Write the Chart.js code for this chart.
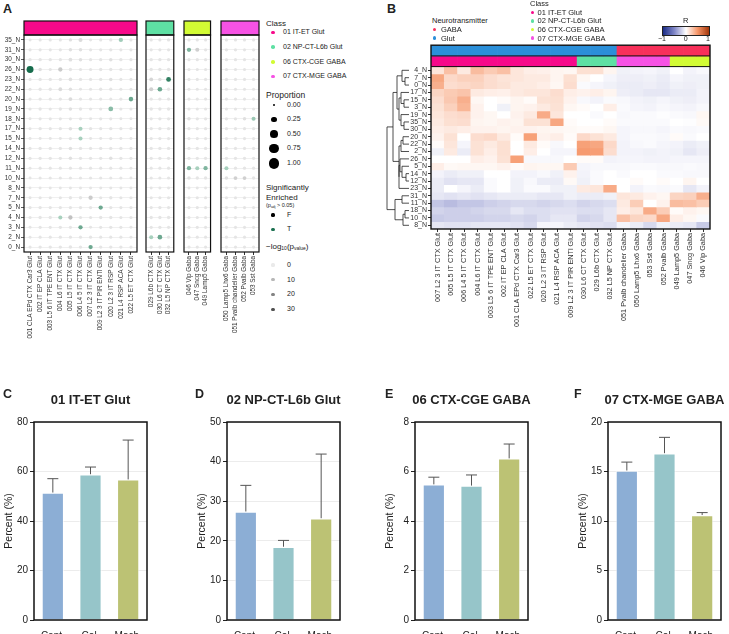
<!DOCTYPE html>
<html lang="en">
<head>
<meta charset="UTF-8">
<meta name="viewport" content="width=device-width, initial-scale=1.0">
<title>Cluster enrichment by neuron class</title>
<script src="https://cdn.jsdelivr.net/npm/chart.js"></script>
<style>
  html, body { margin: 0; padding: 0; background: #fff; }
  body { position: relative; width: 729px; height: 634px; overflow: hidden;
         font-family: Arial, "Liberation Sans", Helvetica, sans-serif; color: #222; }
  canvas { position: absolute; }
  .txt { position: absolute; white-space: nowrap; line-height: 1.2; }
  .dot { position: absolute; border-radius: 50%; }
  sub { font-size: 0.62em; vertical-align: -0.2em; line-height: 0; }
</style>
</head>
<body>
<canvas id="a1" width="141" height="360" style="left:0;top:18px"></canvas>
<canvas id="a2" width="36" height="360" style="left:142px;top:18px"></canvas>
<canvas id="a3" width="35" height="360" style="left:180px;top:18px"></canvas>
<canvas id="a4" width="46" height="360" style="left:217px;top:18px"></canvas>
<canvas id="heat" width="354" height="300" style="left:375px;top:40px"></canvas>
<canvas id="barC" width="150" height="249" style="left:0;top:385px"></canvas>
<canvas id="barD" width="150" height="249" style="left:193px;top:385px"></canvas>
<canvas id="barE" width="150" height="249" style="left:381px;top:385px"></canvas>
<canvas id="barF" width="150" height="249" style="left:574px;top:385px"></canvas>

<script>
// ---- panel A: enrichment dot plot ----
const rowsA = ['35_N','31_N','30_N','26_N','23_N','22_N','20_N','19_N','18_N','17_N','15_N',
               '14_N','12_N','11_N','10_N','8_N','7_N','5_N','4_N','3_N','2_N','0_N'];
const colsA1 = ['001 CLA EPd CTX Car3 Glut','002 IT EP CLA Glut','003 L5 6 IT TPE ENT Glut','004 L6 IT CTX Glut',
                '005 L5 IT CTX Glut','006 L4 5 IT CTX Glut','007 L2 3 IT CTX Glut','009 L2 3 IT PIR ENTl Glut',
                '020 L2 3 IT RSP Glut','021 L4 RSP ACA Glut','022 L5 ET CTX Glut'];
const colsA2 = ['029 L6b CTX Glut','030 L6 CT CTX Glut','032 L5 NP CTX Glut'];
const colsA3 = ['046 Vip Gaba','047 Sncg Gaba','049 Lamp5 Gaba'];
const colsA4 = ['050 Lamp5 Lhx6 Gaba','051 Pvalb chandelier Gaba','052 Pvalb Gaba','053 Sst Gaba'];

// proportion (%) per row, columns in order colsA1..colsA4
const propA = [
  [3,4,4,4,5,10,3,4,5,12,4,  4,4,5,   4,4,4,    4,4,4,4],
  [4,4,4,5,6,6,4,4,5,4,4,    4,4,4,   12,10,5,  5,5,4,5],
  [5,5,5,5,8,6,4,5,6,5,4,    5,5,5,   4,4,4,    4,4,4,4],
  [40,6,4,12,5,4,4,5,5,4,4,  5,5,5,   4,4,4,    4,4,4,4],
  [4,5,5,5,7,5,4,5,6,4,4,    8,6,16,  4,4,4,    4,4,4,4],
  [4,5,5,8,6,3,4,5,5,4,4,    10,15,5, 4,4,4,    4,4,4,4],
  [4,5,4,5,8,5,4,4,4,5,14,   5,5,5,   4,4,4,    4,4,4,4],
  [4,5,4,5,6,5,4,4,16,4,4,   5,5,5,   4,4,4,    4,4,4,4],
  [3,4,4,4,4,4,3,4,4,3,3,    4,5,5,   6,5,5,    5,5,6,10],
  [3,5,4,5,7,10,5,4,5,4,4,   4,5,4,   4,4,4,    4,4,4,4],
  [3,3,3,3,4,10,3,3,4,3,3,   4,4,4,   4,4,4,    4,4,4,4],
  [4,5,5,5,6,5,4,5,5,5,4,    5,5,5,   5,5,5,    4,4,4,4],
  [4,5,5,5,6,5,5,5,6,5,4,    5,5,5,   5,5,5,    5,5,5,5],
  [3,4,4,4,4,4,4,4,4,4,3,    4,4,4,   12,10,12, 10,5,5,5],
  [3,4,4,4,4,4,4,4,4,4,3,    4,4,4,   6,5,5,    6,8,8,5],
  [2,3,3,3,3,3,3,3,3,3,3,    3,3,3,   3,3,3,    3,3,3,3],
  [3,4,4,4,5,5,12,4,5,4,4,   4,4,4,   4,4,4,    4,4,4,4],
  [4,5,4,5,5,5,5,12,5,4,4,   4,5,4,   4,4,4,    4,4,4,4],
  [4,5,5,10,12,4,4,5,5,4,4,  5,5,5,   4,4,4,    4,4,4,4],
  [3,4,4,5,4,12,3,4,5,4,3,   4,5,4,   4,4,4,    4,4,4,4],
  [3,4,4,5,4,4,4,4,4,4,3,    10,15,4, 4,4,4,    4,4,4,4],
  [4,5,5,5,6,5,12,5,5,5,4,   4,4,4,   4,4,4,    4,4,4,4]
];
// -log10(p value), same layout
const logpA = [
  [1,1,1,1,2,3,1,1,1,6,1,   1,1,1,   1,1,1,   1,1,1,1],
  [1,1,1,1,2,2,1,1,1,1,1,   1,1,1,   12,5,1,  1,1,1,1],
  [1,1,1,1,2,2,1,1,2,1,1,   1,1,1,   1,1,1,   1,1,1,1],
  [30,2,1,6,1,1,1,1,1,1,1,  1,1,1,   1,1,1,   1,1,1,1],
  [1,1,1,1,2,1,1,1,2,1,1,   4,2,25,  1,1,1,   1,1,1,1],
  [1,1,1,3,2,1,1,1,1,1,1,   5,15,1,  1,1,1,   1,1,1,1],
  [1,1,1,1,3,1,1,1,1,1,15,  1,1,1,   1,1,1,   1,1,1,1],
  [1,1,1,1,2,1,1,1,10,1,1,  1,1,1,   1,1,1,   1,1,1,1],
  [1,1,1,1,1,1,1,1,1,1,1,   1,1,1,   2,1,1,   1,1,2,7],
  [1,1,1,1,2,5,1,1,1,1,1,   1,1,1,   1,1,1,   1,1,1,1],
  [1,1,1,1,1,5,1,1,1,1,1,   1,1,1,   1,1,1,   1,1,1,1],
  [1,1,1,1,2,1,1,1,1,1,1,   1,1,1,   1,1,1,   1,1,1,1],
  [1,1,1,1,2,1,1,1,2,1,1,   1,1,1,   1,1,1,   1,1,1,1],
  [1,1,1,1,1,1,1,1,1,1,1,   1,1,1,   12,5,12, 5,1,1,1],
  [1,1,1,1,1,1,1,1,1,1,1,   1,1,1,   2,1,1,   2,5,5,1],
  [1,1,1,1,1,1,1,1,1,1,1,   1,1,1,   1,1,1,   1,1,1,1],
  [1,1,1,1,1,1,6,1,1,1,1,   1,1,1,   1,1,1,   1,1,1,1],
  [1,1,1,1,1,1,1,15,1,1,1,  1,1,1,   1,1,1,   1,1,1,1],
  [1,1,1,5,8,1,1,1,1,1,1,   1,1,1,   1,1,1,   1,1,1,1],
  [1,1,1,1,1,15,1,1,1,1,1,  1,1,1,   1,1,1,   1,1,1,1],
  [1,1,1,1,1,1,1,1,1,1,1,   5,15,1,  1,1,1,   1,1,1,1],
  [1,1,1,1,1,1,15,1,1,1,1,  1,1,1,   1,1,1,   1,1,1,1]
];
// significantly enriched cells [cluster, cell type]
const sigA = [
  ['35_N','021 L4 RSP ACA Glut'], ['26_N','001 CLA EPd CTX Car3 Glut'], ['20_N','022 L5 ET CTX Glut'],
  ['19_N','020 L2 3 IT RSP Glut'], ['17_N','006 L4 5 IT CTX Glut'], ['15_N','006 L4 5 IT CTX Glut'],
  ['5_N','009 L2 3 IT PIR ENTl Glut'], ['4_N','004 L6 IT CTX Glut'], ['3_N','006 L4 5 IT CTX Glut'],
  ['0_N','007 L2 3 IT CTX Glut'], ['23_N','032 L5 NP CTX Glut'], ['22_N','030 L6 CT CTX Glut'],
  ['2_N','029 L6b CTX Glut'], ['2_N','030 L6 CT CTX Glut'], ['31_N','046 Vip Gaba'],
  ['11_N','046 Vip Gaba'], ['11_N','047 Sncg Gaba'], ['11_N','049 Lamp5 Gaba'],
  ['11_N','050 Lamp5 Lhx6 Gaba'], ['18_N','053 Sst Gaba']
];
const classNames = ['01 IT-ET Glut','02 NP-CT-L6b Glut','06 CTX-CGE GABA','07 CTX-MGE GABA'];
const classColors = ['#f7098a','#5ee0a3','#d2fb34','#f652e4'];

// ---- panel B: correlation heatmap ----
const rowsB = ['4_N','7_N','0_N','17_N','15_N','3_N','19_N','35_N','30_N','20_N','22_N',
               '2_N','26_N','5_N','14_N','12_N','23_N','31_N','11_N','18_N','10_N','8_N'];
const colsB = ['007 L2 3 IT CTX Glut','005 L5 IT CTX Glut','006 L4 5 IT CTX Glut','004 L6 IT CTX Glut',
               '003 L5 6 IT TPE ENT Glut','002 IT EP CLA Glut','001 CLA EPd CTX Car3 Glut','022 L5 ET CTX Glut',
               '020 L2 3 IT RSP Glut','021 L4 RSP ACA Glut','009 L2 3 IT PIR ENTl Glut','030 L6 CT CTX Glut',
               '029 L6b CTX Glut','032 L5 NP CTX Glut','051 Pvalb chandelier Gaba','050 Lamp5 Lhx6 Gaba',
               '053 Sst Gaba','052 Pvalb Gaba','049 Lamp5 Gaba','047 Sncg Gaba','046 Vip Gaba'];
const ntB = ['Glut','Glut','Glut','Glut','Glut','Glut','Glut','Glut','Glut','Glut','Glut','Glut','Glut','Glut',
             'GABA','GABA','GABA','GABA','GABA','GABA','GABA'];
const classB = [0,0,0,0,0,0,0,0,0,0,0, 1,1,1, 3,3,3,3, 2,2,2];
const ntColors = { GABA: '#f8305a', Glut: '#2b8fd9' };
const corrB = [
  [0.12,0.30,0.10,0.32,0.25,0.30,0.12,0.08,0.07,0.05,0.04,0.15,0.15,0.05,-0.06,-0.05,-0.04,-0.06,0.00,-0.05,-0.03],
  [0.42,0.18,0.22,0.22,0.16,0.13,0.12,0.10,0.10,0.05,0.15,0.04,0.00,-0.04,-0.07,-0.07,-0.06,-0.08,-0.04,-0.06,-0.06],
  [0.38,0.16,0.18,0.20,0.16,0.14,0.10,0.10,0.08,0.04,0.16,-0.02,-0.04,-0.06,-0.08,-0.08,-0.07,-0.09,-0.06,-0.07,-0.06],
  [0.20,0.25,0.28,0.10,0.08,0.07,0.10,0.12,0.12,0.16,0.08,0.06,0.08,0.05,-0.07,-0.08,-0.10,-0.10,-0.08,-0.08,-0.05],
  [0.16,0.26,0.38,0.04,0.00,0.02,0.05,0.02,0.14,0.15,0.06,-0.03,-0.05,-0.02,-0.03,-0.05,-0.06,-0.04,-0.06,-0.07,-0.05],
  [0.14,0.22,0.35,0.06,0.00,-0.06,0.05,0.06,0.10,0.14,0.04,0.02,0.00,0.08,-0.02,-0.04,-0.05,-0.03,-0.04,-0.05,-0.03],
  [0.12,0.16,0.18,0.06,0.04,0.00,0.06,0.10,0.40,0.12,0.00,0.00,-0.02,0.00,-0.03,-0.02,-0.02,-0.01,-0.02,-0.03,0.04],
  [0.10,0.15,0.16,0.05,0.04,0.06,0.05,0.14,0.14,0.42,0.02,0.00,0.00,0.02,-0.02,-0.02,-0.02,-0.02,0.00,-0.01,0.03],
  [0.08,0.10,0.08,0.06,0.06,0.05,0.06,0.06,0.05,0.04,0.03,0.02,0.02,0.04,-0.04,-0.03,-0.03,-0.04,-0.02,-0.03,-0.02],
  [0.06,0.14,0.00,0.16,0.18,0.10,0.02,0.45,0.06,0.08,0.02,0.18,0.14,0.10,-0.04,-0.02,-0.02,-0.03,0.02,-0.02,0.00],
  [0.02,0.12,-0.04,0.14,0.10,0.15,0.00,0.10,0.02,-0.03,0.00,0.45,0.42,0.18,-0.05,-0.03,-0.02,-0.04,-0.05,-0.08,-0.06],
  [-0.06,0.10,-0.08,0.14,0.08,0.15,0.00,0.08,0.00,-0.04,-0.04,0.48,0.46,0.16,-0.05,-0.05,-0.06,-0.05,-0.06,-0.10,-0.07],
  [0.00,0.00,0.00,0.08,0.06,0.14,0.45,-0.03,-0.03,-0.03,0.00,0.02,0.02,-0.05,-0.04,-0.04,-0.05,-0.05,-0.04,-0.04,-0.04],
  [0.08,0.03,0.04,0.04,0.04,0.06,0.02,0.05,0.04,0.04,0.25,-0.04,-0.03,-0.03,-0.03,-0.02,-0.02,-0.03,-0.03,-0.02,-0.03],
  [-0.05,-0.08,-0.06,-0.06,0.00,0.00,-0.05,-0.05,-0.03,-0.06,0.06,-0.05,-0.02,0.00,-0.02,0.00,0.00,-0.02,-0.02,-0.03,-0.03],
  [-0.08,-0.12,-0.10,-0.10,-0.02,0.00,-0.06,-0.03,-0.08,-0.08,0.03,-0.06,-0.02,0.00,0.00,0.02,0.00,0.02,0.00,0.05,0.00],
  [-0.08,0.00,-0.04,-0.08,-0.02,0.00,-0.06,-0.02,-0.02,-0.06,-0.06,0.10,0.12,0.40,0.00,-0.05,-0.02,-0.03,-0.02,-0.10,-0.05],
  [-0.10,-0.12,-0.10,-0.12,-0.10,-0.08,-0.08,-0.08,-0.10,-0.10,-0.06,-0.08,-0.08,-0.06,0.12,0.10,0.06,0.04,0.20,0.22,0.38],
  [-0.24,-0.28,-0.24,-0.24,-0.20,-0.18,-0.16,-0.16,-0.18,-0.16,-0.14,-0.18,-0.16,-0.14,0.10,0.24,0.00,0.06,0.32,0.30,0.24],
  [-0.18,-0.20,-0.20,-0.18,-0.16,-0.16,-0.10,-0.14,-0.14,-0.12,-0.12,-0.14,-0.14,-0.10,0.08,0.12,0.40,0.24,0.02,0.06,0.04],
  [-0.22,-0.20,-0.20,-0.20,-0.18,-0.18,-0.16,-0.18,-0.14,-0.10,-0.10,-0.18,-0.16,-0.10,0.30,0.20,0.18,0.42,0.08,0.04,-0.02],
  [-0.10,-0.12,-0.12,-0.10,-0.10,-0.10,-0.12,-0.16,-0.04,-0.04,-0.08,-0.10,-0.12,-0.14,-0.04,-0.08,-0.16,-0.06,-0.08,-0.10,-0.22]
];
// row clustering: [left, right, height]; ids >= 22 are earlier merges
const dendroB = [
  [1,2,4], [0,22,7], [4,5,5], [3,24,8], [7,8,5], [6,26,8], [25,27,10], [23,28,12],
  [9,10,6], [30,11,8], [14,15,3], [13,32,7], [12,33,9], [34,16,10], [31,35,10],
  [29,36,16], [17,18,7], [19,20,4], [39,21,6], [38,40,14], [37,41,22]
];

// ---- panels C-F: class proportions ----
const barGroups = ['Cent.','Col.','Mach.'];
const barColors = ['#8caed5','#96c5c9','#bcc274'];
const itEtMean = [51.5, 58.9, 56.8], itEtUpper = [57.1, 61.8, 72.7];
const npCtMean = [27.4, 18.5, 25.7], npCtUpper = [34.0, 20.1, 41.9];
const cgeMean  = [5.48, 5.43, 6.53], cgeUpper  = [5.77, 5.86, 7.11];
const mgeMean  = [15.1, 16.85, 10.6], mgeUpper = [15.95, 18.45, 10.85];

Chart.defaults.font.family = 'Arial, "Liberation Sans", Helvetica, sans-serif';
Chart.defaults.color = '#222';
Chart.defaults.animation = false;
Chart.defaults.events = [];
Chart.defaults.responsive = false;
Chart.defaults.maintainAspectRatio = false;
Chart.defaults.plugins.legend.display = false;
Chart.defaults.plugins.tooltip.enabled = false;

const dotRadius = p => Math.sqrt(1.44 + 26.6 * p / 100);
const mix = (c0, c1, t) => 'rgb(' + c0.map((c, k) => Math.round(c + (c1[k] - c) * t)).join(',') + ')';
const grayShade = lp => mix([234,234,234], [80,80,80], Math.min(lp / 30, 1));
const greenShade = lp => mix([196,228,212], [22,108,76], Math.min(lp / 30, 1));
const rStops = [[-1,[26,44,135]], [-0.5,[130,136,200]], [0,[255,255,255]], [0.5,[246,150,105]], [1,[165,55,10]]];
function rColor(r) {
  for (let i = 0; i < rStops.length - 1; i++) {
    const [a, ca] = rStops[i], [b, cb] = rStops[i + 1];
    if (r <= b) return mix(ca, cb, (r - a) / (b - a));
  }
  return mix(rStops[4][1], rStops[4][1], 0);
}

// header box + frame for each dot plot block
const headerFrame = color => ({
  id: 'headerFrame',
  afterDraw(chart) {
    const { ctx, chartArea: a } = chart;
    ctx.save();
    ctx.fillStyle = color;
    ctx.fillRect(a.left, a.top - 14, a.right - a.left, 14);
    ctx.strokeStyle = '#111';
    ctx.lineWidth = 1.2;
    ctx.strokeRect(a.left, a.top - 14, a.right - a.left, 14);
    ctx.strokeRect(a.left, a.top, a.right - a.left, a.bottom - a.top);
    ctx.restore();
  }
});

const blocksA = [
  { id: 'a1', cols: colsA1, start: 0, cls: 0, showY: true },
  { id: 'a2', cols: colsA2, start: 11, cls: 1 },
  { id: 'a3', cols: colsA3, start: 14, cls: 2 },
  { id: 'a4', cols: colsA4, start: 17, cls: 3 }
];
blocksA.forEach(g => {
  const pts = [], colors = [];
  rowsA.forEach((row, ri) => g.cols.forEach((col, ci) => {
    const k = g.start + ci;
    const sig = sigA.some(s => s[0] === row && s[1] === col);
    pts.push({ x: ci, y: rowsA.length - 1 - ri, r: dotRadius(propA[ri][k]) });
    colors.push(sig ? greenShade(logpA[ri][k]) : grayShade(logpA[ri][k]));
  }));
  new Chart(document.getElementById(g.id), {
    type: 'bubble',
    data: { datasets: [{ data: pts, backgroundColor: colors, borderWidth: 0 }] },
    options: {
      layout: { padding: { top: 17, left: g.showY ? 0 : 1, right: 2, bottom: 0 } },
      scales: {
        x: {
          type: 'linear', min: -0.6, max: g.cols.length - 0.4,
          afterBuildTicks: s => { s.ticks = g.cols.map((c, i) => ({ value: i })); },
          afterFit: s => { s.height = 126; },
          ticks: { autoSkip: false, minRotation: 90, maxRotation: 90, font: { size: 6.4 }, color: '#333',
                   padding: 1, callback: v => g.cols[v] },
          grid: { drawOnChartArea: false, tickLength: 3, tickColor: '#333' },
          border: { display: false }
        },
        y: {
          type: 'linear', min: -0.5, max: rowsA.length - 0.5,
          afterBuildTicks: s => { s.ticks = rowsA.map((r, i) => ({ value: i })); },
          afterFit: s => { s.width = g.showY ? 24 : 0; },
          ticks: { display: !!g.showY, autoSkip: false, font: { size: 6.4 }, color: '#333', padding: 1,
                   callback: v => rowsA[rowsA.length - 1 - v] },
          grid: { color: '#ececec', lineWidth: 0.8, drawTicks: !!g.showY, tickLength: 3, tickColor: '#333' },
          border: { display: false }
        }
      }
    },
    plugins: [headerFrame(classColors[g.cls])]
  });
});

// heatmap with annotation bars and row dendrogram
const annoH = 1.45;
const heatFrame = {
  id: 'heatFrame',
  afterDraw(chart) {
    const { ctx, chartArea: a, scales: { y } } = chart;
    ctx.save();
    ctx.strokeStyle = '#111';
    ctx.lineWidth = 1;
    [annoH, 2 * annoH].forEach(v => {
      const py = y.getPixelForValue(v);
      ctx.beginPath(); ctx.moveTo(a.left, py); ctx.lineTo(a.right, py); ctx.stroke();
    });
    ctx.lineWidth = 1.4;
    ctx.strokeRect(a.left, a.top, a.right - a.left, a.bottom - a.top);
    const leafX = a.left - 22;
    const nodes = rowsB.map((r, i) => ({ x: leafX, y: y.getPixelForValue(2 * annoH + i + 0.5) }));
    ctx.lineWidth = 0.8;
    ctx.strokeStyle = '#222';
    dendroB.forEach(([p, q, h]) => {
      const A = nodes[p], B = nodes[q], x = leafX - h;
      ctx.beginPath();
      ctx.moveTo(A.x, A.y); ctx.lineTo(x, A.y); ctx.lineTo(x, B.y); ctx.lineTo(B.x, B.y);
      ctx.stroke();
      nodes.push({ x, y: (A.y + B.y) / 2 });
    });
    ctx.restore();
  }
};
const cellSet = { barPercentage: 1, categoryPercentage: 1, borderWidth: 0 };
new Chart(document.getElementById('heat'), {
  type: 'bar',
  data: {
    labels: colsB,
    datasets: [
      { ...cellSet, data: colsB.map(() => annoH), backgroundColor: ntB.map(n => ntColors[n]) },
      { ...cellSet, data: colsB.map(() => annoH), backgroundColor: classB.map(c => classColors[c]) },
      ...rowsB.map((row, i) => ({ ...cellSet, label: row, data: colsB.map(() => 1), backgroundColor: corrB[i].map(rColor) }))
    ]
  },
  options: {
    layout: { padding: { top: 4, left: 10, right: 19, bottom: 0 } },
    scales: {
      x: {
        stacked: true,
        afterFit: s => { s.height = 111; },
        ticks: { autoSkip: false, minRotation: 90, maxRotation: 90, font: { size: 7.3 }, color: '#333', padding: 1 },
        grid: { drawOnChartArea: false, offset: false, tickLength: 3, tickColor: '#333' },
        border: { display: false }
      },
      y: {
        stacked: true, reverse: true, min: 0, max: 2 * annoH + rowsB.length,
        afterBuildTicks: s => { s.ticks = rowsB.map((r, i) => ({ value: 2 * annoH + i + 0.5 })); },
        afterFit: s => { s.width = 46; },
        ticks: { autoSkip: false, font: { size: 7 }, color: '#333', padding: 1,
                 callback: v => rowsB[Math.round(v - 2 * annoH - 0.5)] },
        grid: { drawOnChartArea: false, tickLength: 3, tickColor: '#333' },
        border: { display: false }
      }
    }
  },
  plugins: [heatFrame]
});

// bar panels with upper error bars
const errorBars = upper => ({
  id: 'errorBars',
  afterDatasetsDraw(chart) {
    const { ctx, scales: { y } } = chart;
    ctx.save();
    ctx.strokeStyle = '#555';
    ctx.lineWidth = 1;
    chart.getDatasetMeta(0).data.forEach((bar, i) => {
      const yt = y.getPixelForValue(upper[i]);
      ctx.beginPath();
      ctx.moveTo(bar.x, bar.y); ctx.lineTo(bar.x, yt);
      ctx.moveTo(bar.x - 5.5, yt); ctx.lineTo(bar.x + 5.5, yt);
      ctx.stroke();
    });
    ctx.restore();
  }
});
const boxFrame = {
  id: 'boxFrame',
  afterDraw(chart) {
    const { ctx, chartArea: a } = chart;
    ctx.save();
    ctx.strokeStyle = '#111';
    ctx.lineWidth = 1.5;
    ctx.strokeRect(a.left, a.top, a.right - a.left, a.bottom - a.top);
    ctx.restore();
  }
};
function barPanel(id, mean, upper, max, step) {
  new Chart(document.getElementById(id), {
    type: 'bar',
    data: {
      labels: barGroups,
      datasets: [{ data: mean, backgroundColor: barColors, borderColor: 'rgba(255,255,255,0.6)',
                   borderWidth: 1.2, barPercentage: 0.6, categoryPercentage: 1 }]
    },
    options: {
      layout: { padding: { top: 37, left: 0, right: 3, bottom: 0 } },
      scales: {
        x: {
          afterFit: s => { s.height = 14; },
          ticks: { font: { size: 10 }, color: '#222', padding: 2 },
          grid: { display: false },
          border: { display: false }
        },
        y: {
          min: 0, max: max,
          afterFit: s => { s.width = 34; },
          ticks: { stepSize: step, font: { size: 10 }, color: '#222', padding: 2 },
          grid: { color: '#ececec', tickColor: '#222', tickLength: 4 },
          border: { display: false },
          title: { display: true, text: 'Percent (%)', font: { size: 10.5 }, color: '#222', padding: { top: 3, bottom: 0 } }
        }
      }
    },
    plugins: [errorBars(upper), boxFrame]
  });
}
barPanel('barC', itEtMean, itEtUpper, 80, 20);
barPanel('barD', npCtMean, npCtUpper, 50, 10);
barPanel('barE', cgeMean, cgeUpper, 8, 2);
barPanel('barF', mgeMean, mgeUpper, 20, 5);

// ---- text, letters and legends ----
function label(html, x, y, size, opts = {}) {
  const d = document.createElement('div');
  d.className = 'txt';
  d.innerHTML = html;
  d.style.fontSize = size + 'px';
  d.style.left = x + 'px';
  d.style.top = (y - size * 0.6) + 'px';
  if (opts.bold) d.style.fontWeight = 'bold';
  if (opts.center) d.style.transform = 'translateX(-50%)';
  document.body.appendChild(d);
}
function dot(x, y, r, color) {
  const d = document.createElement('div');
  d.className = 'dot';
  d.style.left = (x - r) + 'px';
  d.style.top = (y - r) + 'px';
  d.style.width = d.style.height = (2 * r) + 'px';
  d.style.background = color;
  document.body.appendChild(d);
}

label('A', 3, 9, 12.5, { bold: true });
label('B', 387, 9, 12.5, { bold: true });
label('C', 3, 394, 12.5, { bold: true });
label('D', 195, 394, 12.5, { bold: true });
label('E', 385, 394, 12.5, { bold: true });
label('F', 574, 394, 12.5, { bold: true });

label('01 IT-ET Glut', 90.5, 400, 13, { bold: true, center: true });
label('02 NP-CT-L6b Glut', 283.5, 400, 13, { bold: true, center: true });
label('06 CTX-CGE GABA', 471.5, 400, 13, { bold: true, center: true });
label('07 CTX-MGE GABA', 664.5, 400, 13, { bold: true, center: true });

// panel A legend
label('Class', 266, 24, 8);
classNames.forEach((c, i) => {
  const y = 32.5 + i * 14.7;
  dot(273, y, 1.8, classColors[i]);
  label(c, 283, y, 7);
});
label('Proportion', 266, 95, 8.5);
['0.00','0.25','0.50','0.75','1.00'].forEach((t, i) => {
  const y = 104.7 + i * 14.65;
  dot(274, y, dotRadius(parseFloat(t) * 100), '#000');
  label(t, 287, y, 7);
});
label('Significantly', 266, 188, 8);
label('Enriched', 266, 197.5, 8);
label('(p<sub>adj</sub> &gt; 0.05)', 266, 205, 5.5);
dot(273, 215, 1.6, '#000');
label('F', 287, 215, 7);
dot(273, 229.5, 1.6, '#1b7050');
label('T', 287, 229.5, 7);
label('&minus;log<sub>10</sub>(p<sub>value</sub>)', 266, 247, 8);
[0, 10, 20, 30].forEach((v, i) => {
  const y = 265 + i * 14.7;
  dot(273, y, 1.6, grayShade(v));
  label(String(v), 287, y, 7);
});

// panel B legend
label('Neurotransmitter', 432, 20.8, 7.5);
['GABA','Glut'].forEach((n, i) => {
  const y = 29.3 + i * 8.7;
  dot(434.5, y, 1.8, ntColors[n]);
  label(n, 441, y, 7.5);
});
label('Class', 530, 3.8, 7.5);
classNames.forEach((c, i) => {
  const y = 12.3 + i * 8.6;
  dot(532.5, y, 1.8, classColors[i]);
  label(c, 537.5, y, 7.5);
});
label('R', 685.7, 20, 7.5, { center: true });
const bar = document.createElement('div');
bar.style.cssText = 'position:absolute;left:662px;top:25.7px;width:46px;height:8px;border:1px solid #222;' +
  'background:linear-gradient(to right,' + rStops.map(s => mix(s[1], s[1], 0) + ' ' + ((s[0] + 1) * 50) + '%').join(',') + ')';
document.body.appendChild(bar);
label('&minus;1', 662, 39, 7, { center: true });
label('0', 685.7, 39, 7, { center: true });
label('1', 708, 39, 7, { center: true });
</script>
</body>
</html>
